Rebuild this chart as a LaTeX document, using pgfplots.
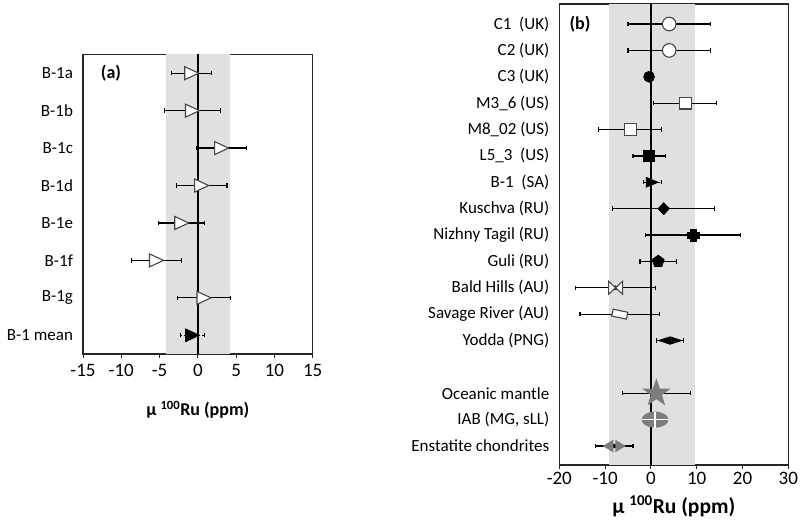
\documentclass[border=0pt]{standalone}
\usepackage{fontspec}
\setmainfont{Carlito}
\usepackage{pgfplots}
\pgfplotsset{compat=1.18}
\definecolor{bandc}{RGB}{224,224,224}
\definecolor{openc}{RGB}{70,70,70}
\definecolor{grayc}{RGB}{125,125,125}

\pgfdeclareplotmark{rtri}{%
  \pgfpathmoveto{\pgfqpoint{-7pt}{-6.5pt}}%
  \pgfpathlineto{\pgfqpoint{-7pt}{6.5pt}}%
  \pgfpathlineto{\pgfqpoint{7pt}{0pt}}%
  \pgfpathclose\pgfusepathqfillstroke}
\pgfdeclareplotmark{rtris}{%
  \pgfpathmoveto{\pgfqpoint{-6pt}{-5pt}}%
  \pgfpathlineto{\pgfqpoint{-6pt}{5pt}}%
  \pgfpathlineto{\pgfqpoint{6pt}{0pt}}%
  \pgfpathclose\pgfusepathqfillstroke}
\pgfdeclareplotmark{dia}{%
  \pgfpathmoveto{\pgfqpoint{-5.8pt}{0pt}}%
  \pgfpathlineto{\pgfqpoint{0pt}{6pt}}%
  \pgfpathlineto{\pgfqpoint{5.8pt}{0pt}}%
  \pgfpathlineto{\pgfqpoint{0pt}{-6pt}}%
  \pgfpathclose\pgfusepathqfillstroke}
\pgfdeclareplotmark{widedia}{%
  \pgfpathmoveto{\pgfqpoint{-11.7pt}{0pt}}%
  \pgfpathlineto{\pgfqpoint{0pt}{3.8pt}}%
  \pgfpathlineto{\pgfqpoint{11.7pt}{0pt}}%
  \pgfpathlineto{\pgfqpoint{0pt}{-3.8pt}}%
  \pgfpathclose\pgfusepathqfillstroke}
\pgfdeclareplotmark{fatplus}{%
  \pgfpathmoveto{\pgfqpoint{-2.8pt}{6pt}}%
  \pgfpathlineto{\pgfqpoint{2.8pt}{6pt}}%
  \pgfpathlineto{\pgfqpoint{2.8pt}{2.8pt}}%
  \pgfpathlineto{\pgfqpoint{6pt}{2.8pt}}%
  \pgfpathlineto{\pgfqpoint{6pt}{-2.8pt}}%
  \pgfpathlineto{\pgfqpoint{2.8pt}{-2.8pt}}%
  \pgfpathlineto{\pgfqpoint{2.8pt}{-6pt}}%
  \pgfpathlineto{\pgfqpoint{-2.8pt}{-6pt}}%
  \pgfpathlineto{\pgfqpoint{-2.8pt}{-2.8pt}}%
  \pgfpathlineto{\pgfqpoint{-6pt}{-2.8pt}}%
  \pgfpathlineto{\pgfqpoint{-6pt}{2.8pt}}%
  \pgfpathlineto{\pgfqpoint{-2.8pt}{2.8pt}}%
  \pgfpathclose\pgfusepathqfillstroke}
\pgfdeclareplotmark{bowtie}{%
  \pgfpathmoveto{\pgfqpoint{-7pt}{6.5pt}}%
  \pgfpathlineto{\pgfqpoint{7pt}{-6.5pt}}%
  \pgfpathlineto{\pgfqpoint{7pt}{6.5pt}}%
  \pgfpathlineto{\pgfqpoint{-7pt}{-6.5pt}}%
  \pgfpathclose\pgfusepathqfillstroke}
\pgfdeclareplotmark{slantrect}{%
  \pgfpathmoveto{\pgfqpoint{-8.06pt}{-1.86pt}}%
  \pgfpathlineto{\pgfqpoint{6.61pt}{-4.98pt}}%
  \pgfpathlineto{\pgfqpoint{8.06pt}{1.86pt}}%
  \pgfpathlineto{\pgfqpoint{-6.61pt}{4.98pt}}%
  \pgfpathclose\pgfusepathqfillstroke}
\pgfdeclareplotmark{bigstar}{%
  \pgfpathmoveto{\pgfqpoint{0pt}{15pt}}%
  \pgfpathlineto{\pgfqpoint{-3.46pt}{4.77pt}}%
  \pgfpathlineto{\pgfqpoint{-14.27pt}{4.64pt}}%
  \pgfpathlineto{\pgfqpoint{-5.60pt}{-1.82pt}}%
  \pgfpathlineto{\pgfqpoint{-8.82pt}{-12.14pt}}%
  \pgfpathlineto{\pgfqpoint{0pt}{-5.89pt}}%
  \pgfpathlineto{\pgfqpoint{8.82pt}{-12.14pt}}%
  \pgfpathlineto{\pgfqpoint{5.60pt}{-1.82pt}}%
  \pgfpathlineto{\pgfqpoint{14.27pt}{4.64pt}}%
  \pgfpathlineto{\pgfqpoint{3.46pt}{4.77pt}}%
  \pgfpathclose\pgfusepathqfill}
\pgfdeclareplotmark{crossell}{%
  \pgfpathellipse{\pgfpointorigin}{\pgfqpoint{13.5pt}{0pt}}{\pgfqpoint{0pt}{8pt}}%
  \pgfusepathqfill
  \pgfsetstrokecolor{white}\pgfsetlinewidth{1.6pt}%
  \pgfpathmoveto{\pgfqpoint{-13.5pt}{0pt}}\pgfpathlineto{\pgfqpoint{13.5pt}{0pt}}%
  \pgfpathmoveto{\pgfqpoint{0pt}{-8pt}}\pgfpathlineto{\pgfqpoint{0pt}{8pt}}%
  \pgfusepathqstroke}
\pgfdeclareplotmark{twotri}{%
  \pgfpathmoveto{\pgfqpoint{-11.5pt}{0pt}}%
  \pgfpathlineto{\pgfqpoint{-1pt}{6.3pt}}%
  \pgfpathlineto{\pgfqpoint{-1pt}{-6.3pt}}%
  \pgfpathclose
  \pgfpathmoveto{\pgfqpoint{11.5pt}{0pt}}%
  \pgfpathlineto{\pgfqpoint{1pt}{6.3pt}}%
  \pgfpathlineto{\pgfqpoint{1pt}{-6.3pt}}%
  \pgfpathclose\pgfusepathqfill}

\pgfplotsset{
  common/.style={
    scale only axis, anchor=south west,
    axis line style={black!85, line width=1.3pt},
    tick align=outside, major tick length=4pt,
    xtick pos=left,
    xtick style={black!85, line width=1pt},
    ytick style={draw=none},
    y dir=reverse,
    /pgf/number format/assume math mode=true,
    xticklabel style={font=\fontsize{19}{21}\selectfont},
    yticklabel style={font=\fontsize{17}{19}\selectfont, xshift=-2.5pt},
    clip=false,
  },
  ebar/.style={only marks, mark=none, forget plot,
    error bars/.cd, x dir=both, x explicit, error mark=|,
    error bar style={black, line width=1.2pt, #1},
    error mark options={black, line width=1.2pt, mark size=2.2pt, solid}},
  ebar/.default={},
  openm/.style={only marks, mark options={draw=openc, fill=white, line width=1.1pt}},
  fillm/.style={only marks, mark options={draw=black, fill=black, line width=0.6pt}},
  graym/.style={only marks, mark options={draw=grayc, fill=grayc}},
}

\begin{document}
\begin{tikzpicture}
\path[use as bounding box] (0pt,0pt) rectangle (800pt,526pt);

% ---------------- panel (a)
\begin{axis}[common,
  at={(83pt,172pt)}, width=229.7pt, height=299.5pt,
  xmin=-15, xmax=15, ymin=0.5, ymax=8.5,
  xtick={-15,-10,-5,0,5,10,15},
  ytick={1,2,3,4,5,6,7,8},
  yticklabels={B-1a,B-1b,B-1c,B-1d,B-1e,B-1f,B-1g,B-1 mean},
  xticklabel style={yshift=-3pt},
  xlabel={μ \textsuperscript{100}Ru (ppm)},
  xlabel style={font=\bfseries\fontsize{18}{20}\selectfont, yshift=-17pt},
]
\addplot[draw=none, fill=bandc, forget plot] coordinates {(-4.2,0.5) (4.2,0.5) (4.2,8.5) (-4.2,8.5)} -- cycle;
\addplot[black, line width=1.3pt, forget plot] coordinates {(0,0.5) (0,8.5)};
\addplot[ebar] table[x=x, y=y, x error=e] {
y x e
1 -0.8 2.6
2 -0.7 3.7
3 3.1 3.3
4 0.5 3.3
5 -2.1 3.0
6 -5.4 3.3
7 0.8 3.5
};
\addplot[ebar={densely dashed}] table[x=x, y=y, x error=e] {
y x e
8 -0.7 1.6
};
\addplot[openm, mark=rtri] table[x=x, y=y] {
y x
1 -0.8
2 -0.7
3 3.1
4 0.5
5 -2.1
6 -5.4
7 0.8
};
\addplot[fillm, mark=rtri] coordinates {(-0.7,8)};
\end{axis}
\node[font=\bfseries\fontsize{18}{20}\selectfont] at (111pt,453pt) {(a)};

% ---------------- panel (b)
\begin{axis}[common,
  at={(559.3pt,61pt)}, width=229pt, height=461pt,
  xmin=-20, xmax=30, ymin=0.24, ymax=17.72,
  xtick={-20,-10,0,10,20,30},
  ytick={1,2,3,4,5,6,7,8,9,10,11,12,13,15,16,17},
  yticklabels={C1\ \ (UK),C2 (UK),C3 (UK),M3\_6 (US),M8\_02 (US),L5\_3\ \ (US),B-1\ \ (SA),Kuschva (RU),Nizhny Tagil (RU),Guli (RU),Bald Hills (AU),Savage River (AU),Yodda (PNG),Oceanic mantle,IAB (MG{,} sLL),Enstatite chondrites},
  xticklabel style={yshift=0pt},
  xlabel={μ \textsuperscript{100}Ru (ppm)},
  xlabel style={font=\bfseries\fontsize{21.5}{24}\selectfont, yshift=-4pt},
]
\addplot[draw=none, fill=bandc, forget plot] coordinates {(-9.2,0.24) (9.6,0.24) (9.6,17.72) (-9.2,17.72)} -- cycle;
\addplot[black, line width=1.3pt, forget plot] coordinates {(0,0.24) (0,17.72)};
\addplot[ebar] table[x=x, y=y, x error=e] {
y x e
1 4.0 9.0
2 4.0 9.0
4 7.5 6.9
5 -4.5 6.9
6 -0.4 3.5
8 2.8 11.1
9 9.2 10.4
10 1.6 4.0
11 -7.7 8.7
12 -6.8 8.7
15 1.2 7.4
17 -8.0 4.1
};
\addplot[ebar={densely dashed}] table[x=x, y=y, x error=e] {
y x e
7 0.3 2.0
13 4.2 2.9
};
\addplot[openm, mark=*, mark size=6.8pt] coordinates {(4.0,1) (4.0,2)};
\addplot[fillm, mark=*, mark size=5.5pt] coordinates {(-0.4,3)};
\addplot[openm, mark=square*, mark size=5.8pt] coordinates {(7.5,4) (-4.5,5)};
\addplot[fillm, mark=square*, mark size=5.5pt] coordinates {(-0.4,6)};
\addplot[fillm, mark=rtris] coordinates {(0.3,7)};
\addplot[fillm, mark=dia] coordinates {(2.8,8)};
\addplot[fillm, mark=fatplus] coordinates {(9.2,9)};
\addplot[fillm, mark=pentagon*, mark size=6.3pt] coordinates {(1.6,10)};
\addplot[openm, mark=bowtie] coordinates {(-7.7,11)};
\addplot[openm, mark=slantrect] coordinates {(-6.8,12)};
\addplot[fillm, mark=widedia] coordinates {(4.2,13)};
\addplot[graym, mark=bigstar] coordinates {(1.2,15)};
\addplot[graym, mark=crossell] coordinates {(0.9,16)};
\addplot[graym, mark=twotri] coordinates {(-8.0,17)};
\end{axis}
\node[font=\bfseries\fontsize{18}{20}\selectfont] at (580pt,502pt) {(b)};
\end{tikzpicture}
\end{document}
